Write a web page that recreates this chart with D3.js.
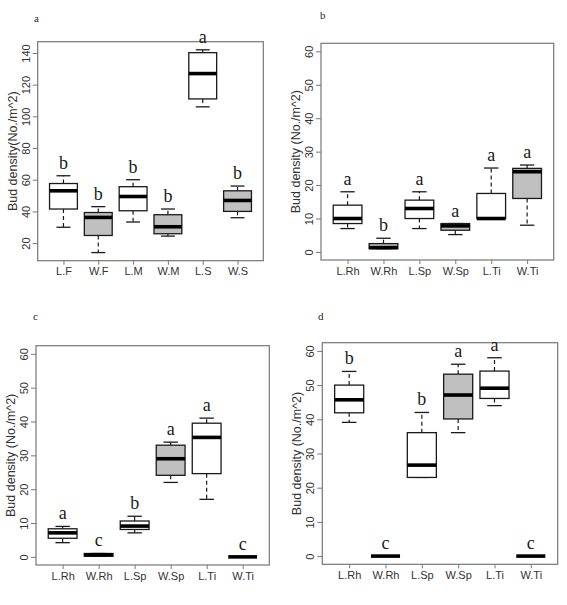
<!DOCTYPE html>
<html>
<head>
<meta charset="utf-8">
<script src="https://cdn.jsdelivr.net/npm/d3@7"></script>
<style>
  html, body { margin: 0; padding: 0; background: #fff; }
  svg { display: block; }
</style>
</head>
<body>
<svg id="chart" width="567" height="605"></svg>
<script>
// ---------------- DATA ----------------
// each stat row: [lower whisker, Q1, median, Q3, upper whisker]
const catsA = ["L.F", "W.F", "L.M", "W.M", "L.S", "W.S"];
const statsA = [
  [30, 41.5, 53, 57.6, 62.5],
  [14, 24.8, 36.2, 39.3, 43],
  [33.3, 40.4, 49.4, 55.6, 60],
  [24.4, 25.9, 30.3, 37.9, 41.5],
  [106, 111, 127, 140.2, 142],
  [36, 40, 46.9, 53, 56]
];
const lettersA = ["b", "b", "b", "b", "a", "b"];
const ticksA = [20, 40, 60, 80, 100, 120, 140];

const catsB = ["L.Rh", "W.Rh", "L.Sp", "W.Sp", "L.Ti", "W.Ti"];
const statsB = [
  [7, 8.5, 10, 14, 18],
  [1, 1, 1.3, 2.5, 4.1],
  [7, 10, 13, 15.5, 18],
  [5.2, 6.5, 7.8, 8.5, 8.5],
  [10, 10, 10, 17.5, 25.1],
  [8, 16, 24, 25, 26]
];
const lettersB = ["a", "b", "a", "a", "a", "a"];

const catsC = ["L.Rh", "W.Rh", "L.Sp", "W.Sp", "L.Ti", "W.Ti"];
const statsC = [
  [4.2, 5.5, 7.1, 8.3, 9],
  [0.2, 0.2, 0.6, 1, 1],
  [7.1, 8.1, 9.1, 10.6, 12],
  [22, 24.1, 29, 33, 33.9],
  [17, 24.6, 35.3, 39.5, 41],
  [0, 0, 0, 0, 0]
];
const lettersC = ["a", "c", "b", "a", "a", "c"];

const catsD = ["L.Rh", "W.Rh", "L.Sp", "W.Sp", "L.Ti", "W.Ti"];
const statsD = [
  [39.1, 41.9, 45.7, 50, 54],
  [0, 0, 0, 0, 0],
  [23, 23, 26.6, 36.1, 42],
  [36.1, 40.1, 47.1, 53.2, 56.1],
  [44, 46.1, 49.1, 54.1, 58],
  [0, 0, 0, 0, 0]
];
const lettersD = ["b", "c", "b", "a", "a", "c"];
const ticks60 = [0, 10, 20, 30, 40, 50, 60];

const panelTags = ["a", "b", "c", "d"];
const titleA = "Bud density(No./m^2)";
const titleBCD = "Bud density (No./m^2)";

// ---------------- LAYOUT ----------------
const panels = [
  { tag: panelTags[0], cats: catsA, stats: statsA, letters: lettersA, ticks: ticksA,
    lim: d3.extent(statsA.flat()), title: titleA,
    x0: 37.7, x1: 263.3, y0: 41.7, y1: 260.7, tagX: 34, tagY: 22 },
  { tag: panelTags[1], cats: catsB, stats: statsB, letters: lettersB, ticks: ticks60,
    lim: [0, 60], title: titleBCD,
    x0: 321, x1: 553.7, y0: 43.3, y1: 260, tagX: 320, tagY: 19 },
  { tag: panelTags[2], cats: catsC, stats: statsC, letters: lettersC, ticks: ticks60,
    lim: [0, 60], title: titleBCD,
    x0: 36, x1: 269.3, y0: 345.7, y1: 565, tagX: 33, tagY: 320 },
  { tag: panelTags[3], cats: catsD, stats: statsD, letters: lettersD, ticks: ticks60,
    lim: [0, 60], title: titleBCD,
    x0: 322.3, x1: 557.7, y0: 342.7, y1: 564.3, tagX: 318, tagY: 320 }
];

const svg = d3.select("#chart");
const sans = "'Liberation Sans', Arial, sans-serif";
const serif = "'Liberation Serif', 'Times New Roman', serif";
const textCol = "#333";
const frameCol = "#777";
const boxCol = "#1a1a1a";
const grayFill = "#c0c0c0";

panels.forEach(p => {
  const n = p.cats.length;
  // R-style 4% axis expansion
  const xr = [0.5, n + 0.5];
  const xpad = (xr[1] - xr[0]) * 0.04;
  const x = d3.scaleLinear().domain([xr[0] - xpad, xr[1] + xpad]).range([p.x0, p.x1]);
  const ypad = (p.lim[1] - p.lim[0]) * 0.04;
  const y = d3.scaleLinear().domain([p.lim[0] - ypad, p.lim[1] + ypad]).range([p.y1, p.y0]);

  const g = svg.append("g");

  // panel tag
  g.append("text").attr("x", p.tagX).attr("y", p.tagY)
    .attr("font-family", serif).attr("font-size", 11).attr("fill", "#222")
    .text(p.tag);

  // frame
  g.append("rect").attr("x", p.x0).attr("y", p.y0)
    .attr("width", p.x1 - p.x0).attr("height", p.y1 - p.y0)
    .attr("fill", "none").attr("stroke", frameCol).attr("stroke-width", 1.2);

  // y axis
  const yAxis = d3.axisLeft(y).tickValues(p.ticks).tickSize(5).tickPadding(3);
  const ya = g.append("g").attr("transform", `translate(${p.x0},0)`).call(yAxis);
  ya.select(".domain").remove();
  ya.selectAll(".tick line").attr("stroke", frameCol).attr("stroke-width", 1);
  ya.selectAll(".tick text")
    .attr("font-family", sans).attr("font-size", 11).attr("fill", textCol)
    .attr("transform", "rotate(-90)")
    .attr("x", 0).attr("y", -8)
    .attr("text-anchor", "middle").attr("dy", 0);

  // x axis
  const xAxis = d3.axisBottom(x).tickValues(d3.range(1, n + 1))
    .tickFormat((d, i) => p.cats[i]).tickSize(4).tickPadding(3);
  const xa = g.append("g").attr("transform", `translate(0,${p.y1})`).call(xAxis);
  xa.select(".domain").remove();
  xa.selectAll(".tick line").attr("stroke", frameCol).attr("stroke-width", 1);
  xa.selectAll(".tick text")
    .attr("font-family", sans).attr("font-size", 11).attr("fill", textCol);

  // y title
  g.append("text")
    .attr("transform", `translate(${p.x0 - 21},${(p.y0 + p.y1) / 2}) rotate(-90)`)
    .attr("text-anchor", "middle")
    .attr("font-family", sans).attr("font-size", 12.5).attr("fill", textCol)
    .text(p.title);

  // boxes (R boxwex 0.8, staplewex 0.5)
  const bw = x(1.8) - x(1);
  const sw = bw / 2;
  p.stats.forEach((s, i) => {
    const cx = x(i + 1);
    const [lo, q1, med, q3, hi] = s;
    const fill = p.cats[i].startsWith("W") ? grayFill : "#fff";
    // whiskers
    if (hi > q3) {
      g.append("line").attr("x1", cx).attr("x2", cx).attr("y1", y(q3)).attr("y2", y(hi))
        .attr("stroke", boxCol).attr("stroke-width", 1.2).attr("stroke-dasharray", "4,3");
    }
    if (lo < q1) {
      g.append("line").attr("x1", cx).attr("x2", cx).attr("y1", y(q1)).attr("y2", y(lo))
        .attr("stroke", boxCol).attr("stroke-width", 1.2).attr("stroke-dasharray", "4,3");
    }
    // staples
    [lo, hi].forEach(v => {
      g.append("line").attr("x1", cx - sw / 2).attr("x2", cx + sw / 2)
        .attr("y1", y(v)).attr("y2", y(v))
        .attr("stroke", boxCol).attr("stroke-width", 1.3);
    });
    // box
    g.append("rect").attr("x", cx - bw / 2).attr("y", y(q3))
      .attr("width", bw).attr("height", Math.max(0, y(q1) - y(q3)))
      .attr("fill", fill).attr("stroke", boxCol).attr("stroke-width", 1.3);
    // median
    g.append("line").attr("x1", cx - bw / 2).attr("x2", cx + bw / 2)
      .attr("y1", y(med)).attr("y2", y(med))
      .attr("stroke", "#000").attr("stroke-width", 3.6);
    // letter
    g.append("text").attr("x", cx).attr("y", y(hi) - 7)
      .attr("text-anchor", "middle")
      .attr("font-family", serif).attr("font-size", 18).attr("fill", "#1a1a1a")
      .text(p.letters[i]);
  });
});
</script>
</body>
</html>
